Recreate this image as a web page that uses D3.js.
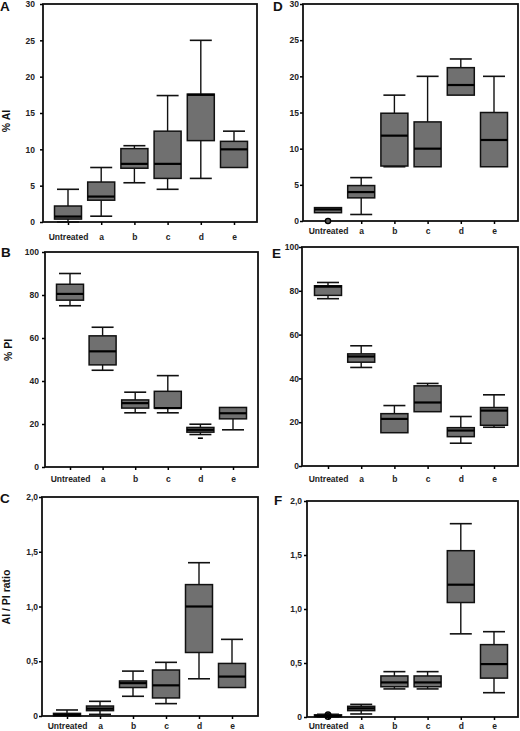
<!DOCTYPE html>
<html>
<head>
<meta charset="utf-8">
<script src="https://cdn.jsdelivr.net/npm/d3@7"></script>
<style>
  body { margin: 0; background: #fff; }
  svg { display: block; font-family: "Liberation Sans", Arial, sans-serif; }
</style>
</head>
<body>
<svg id="chart" width="520" height="731"></svg>
<script>
// categories on every x axis
const categories = ["Untreated", "a", "b", "c", "d", "e"];

// box stats per category: [min, q1, median, q3, max]
const statsA = [[0, 0.4, 0.75, 2.2, 4.5], [0.8, 3, 3.5, 5.5, 7.5], [5.4, 7.4, 8, 10.1, 10.5],
  [4.5, 6, 8, 12.5, 17.4], [6, 11.2, 17.5, 17.6, 25], [7.5, 7.5, 10, 11.1, 12.5]];
const statsB = [[75, 77.6, 80.5, 85, 90], [45, 47.5, 53.8, 61, 65], [25.2, 27.4, 29.7, 31.2, 34.8],
  [25.2, 27.4, 27.4, 35.2, 42.5], [15.1, 16.2, 17.3, 18.4, 19.9], [17.3, 22.4, 25, 27.7, 27.7]];
const statsC = [[0, 0, 0.01, 0.024, 0.055], [0.015, 0.049, 0.067, 0.091, 0.134], [0.18, 0.26, 0.3, 0.32, 0.41],
  [0.113, 0.165, 0.28, 0.42, 0.49], [0.34, 0.58, 1.0, 1.2, 1.4], [0.26, 0.26, 0.36, 0.48, 0.7]];
const statsD = [[1.15, 1.15, 1.6, 1.85, 1.85], [0.9, 3.2, 4, 4.9, 6], [7.5, 7.6, 11.8, 14.9, 17.4],
  [7.5, 7.5, 10, 13.7, 20], [17.4, 17.4, 18.8, 21.2, 22.4], [7.5, 7.5, 11.2, 15, 20]];
const statsE = [[76.4, 77.9, 81.9, 82.3, 83.8], [45, 47.4, 50, 51.2, 54.9], [15.2, 15.2, 21.5, 23.9, 27.6],
  [24.8, 24.8, 29, 36.6, 37.7], [10.4, 13.4, 16.2, 17.5, 22.6], [17.7, 18.6, 25.3, 26.7, 32.5]];
const statsF = [[0, 0.003, 0.01, 0.02, 0.025], [0.028, 0.059, 0.08, 0.099, 0.117], [0.26, 0.28, 0.32, 0.38, 0.42],
  [0.26, 0.28, 0.32, 0.38, 0.42], [0.77, 1.06, 1.225, 1.54, 1.79], [0.225, 0.36, 0.49, 0.67, 0.79]];

// outliers: [category index, value]
const outliersB = [[4, 13.4]];
const outliersD = [[0, 0]];
const outliersF = [[0, 0.005], [0, 0.02]];

// tick values
const ticksAI = [0, 5, 10, 15, 20, 25, 30];
const ticksPI = [0, 20, 40, 60, 80, 100];
const ticksRatio = [0, 0.5, 1, 1.5, 2];

const ratioFmt = d => d === 0 ? "0" : d3.format(".1f")(d).replace(".", ",");

const panels = [
  { letter: "A", stats: statsA, outliers: [], ticks: ticksAI, fmt: d3.format("d"), title: "% AI",
    left: 43, right: 257, top: 4, bottom: 222, cat0: 68, cat1: 234, lx: 0, ly: 11, titleX: 10, titleY: 121, xPad: 9, yPad: 5 },
  { letter: "B", stats: statsB, outliers: outliersB, dash: true, ticks: ticksPI, fmt: d3.format("d"), title: "% PI",
    left: 45, right: 258, top: 252, bottom: 467, cat0: 70, cat1: 233, lx: 1, ly: 257, titleX: 12, titleY: 350, xPad: 6, yPad: 3 },
  { letter: "C", stats: statsC, outliers: [], ticks: ticksRatio, fmt: ratioFmt, title: "AI / PI ratio",
    left: 42, right: 258, top: 497, bottom: 716, cat0: 67, cat1: 232, lx: 0, ly: 503, titleX: 10, titleY: 597, xPad: 3.5, yPad: 1 },
  { letter: "D", stats: statsD, outliers: outliersD, ticks: ticksAI, fmt: d3.format("d"), title: null,
    left: 303, right: 518, top: 4, bottom: 221, cat0: 328, cat1: 494, lx: 273, ly: 11, xPad: 3.5, yPad: 1 },
  { letter: "E", stats: statsE, outliers: [], ticks: ticksPI, fmt: d3.format("d"), title: null,
    left: 302, right: 518, top: 247, bottom: 466, cat0: 328, cat1: 494, lx: 272, ly: 258, xPad: 7, yPad: 0 },
  { letter: "F", stats: statsF, outliers: outliersF, open: true, ticks: ticksRatio, fmt: ratioFmt, title: null,
    left: 307, right: 518, top: 501, bottom: 717, cat0: 328, cat1: 494, lx: 274, ly: 505, xPad: 2.5, yPad: 2 }
];

const svg = d3.select("#chart");
const boxW = 27, capW = 22;

panels.forEach(p => {
  const g = svg.append("g");
  const maxV = p.ticks[p.ticks.length - 1];
  const y = d3.scaleLinear().domain([0, maxV]).range([p.bottom, p.top]);
  const x = d3.scalePoint().domain(categories).range([p.cat0, p.cat1]);

  // frame
  g.append("rect")
    .attr("x", p.left).attr("y", p.top)
    .attr("width", p.right - p.left).attr("height", p.bottom - p.top)
    .attr("fill", "none").attr("stroke", "#111").attr("stroke-width", 1.8);

  // y axis
  const yAxis = g.append("g")
    .attr("transform", "translate(" + p.left + ",0)")
    .call(d3.axisLeft(y).tickValues(p.ticks).tickFormat(p.fmt).tickSize(3).tickPadding(p.yPad));
  yAxis.select(".domain").remove();
  yAxis.selectAll("text").attr("font-size", 8.5).attr("font-weight", "bold").attr("fill", "#222");
  yAxis.selectAll("line").attr("stroke-width", 1.5);

  // x axis
  const xAxis = g.append("g")
    .attr("transform", "translate(0," + p.bottom + ")")
    .call(d3.axisBottom(x).tickSize(3).tickPadding(p.xPad));
  xAxis.select(".domain").remove();
  xAxis.selectAll("text").attr("font-size", 8.5).attr("font-weight", "bold").attr("fill", "#222");
  xAxis.selectAll("line").attr("stroke-width", 1.5);

  // boxes
  const box = g.selectAll(".box").data(p.stats).join("g").attr("class", "box")
    .attr("transform", (d, i) => "translate(" + x(categories[i]) + ",0)");

  // whiskers
  box.append("line").attr("y1", d => y(d[3])).attr("y2", d => y(d[4]))
    .attr("stroke", "#111").attr("stroke-width", 1.4);
  box.append("line").attr("y1", d => y(d[0])).attr("y2", d => y(d[1]))
    .attr("stroke", "#111").attr("stroke-width", 1.4);
  box.filter(d => d[4] > d[3]).append("line")
    .attr("x1", -capW / 2).attr("x2", capW / 2).attr("y1", d => y(d[4])).attr("y2", d => y(d[4]))
    .attr("stroke", "#111").attr("stroke-width", 1.6);
  box.filter(d => d[0] < d[1]).append("line")
    .attr("x1", -capW / 2).attr("x2", capW / 2).attr("y1", d => y(d[0])).attr("y2", d => y(d[0]))
    .attr("stroke", "#111").attr("stroke-width", 1.6);

  box.append("rect")
    .attr("x", -boxW / 2).attr("width", boxW)
    .attr("y", d => y(d[3])).attr("height", d => Math.max(y(d[1]) - y(d[3]), 1))
    .attr("fill", "#707070").attr("stroke", "#111").attr("stroke-width", 1.5);

  box.append("line")
    .attr("x1", -boxW / 2).attr("x2", boxW / 2).attr("y1", d => y(d[2])).attr("y2", d => y(d[2]))
    .attr("stroke", "#000").attr("stroke-width", 2.2);

  // outliers
  if (p.dash) {
    g.selectAll(".out").data(p.outliers).join("line").attr("class", "out")
      .attr("x1", d => x(categories[d[0]]) - 2.5).attr("x2", d => x(categories[d[0]]) + 2.5)
      .attr("y1", d => y(d[1])).attr("y2", d => y(d[1]))
      .attr("stroke", "#000").attr("stroke-width", 1.6);
  } else {
    g.selectAll(".out").data(p.outliers).join("circle").attr("class", "out")
      .attr("cx", d => x(categories[d[0]])).attr("cy", d => y(d[1])).attr("r", p.open ? 2.8 : 2.6)
      .attr("fill", p.open ? "none" : "#555").attr("stroke", "#000").attr("stroke-width", 1.4);
  }

  // panel letter
  svg.append("text").attr("x", p.lx).attr("y", p.ly)
    .attr("font-size", 13.5).attr("font-weight", "bold").attr("fill", "#111").text(p.letter);

  // y title
  if (p.title) {
    svg.append("text")
      .attr("transform", "translate(" + p.titleX + "," + p.titleY + ") rotate(-90)")
      .attr("text-anchor", "middle").attr("font-size", 10.5).attr("font-weight", "bold")
      .attr("fill", "#111").text(p.title);
  }
});
</script>
</body>
</html>
